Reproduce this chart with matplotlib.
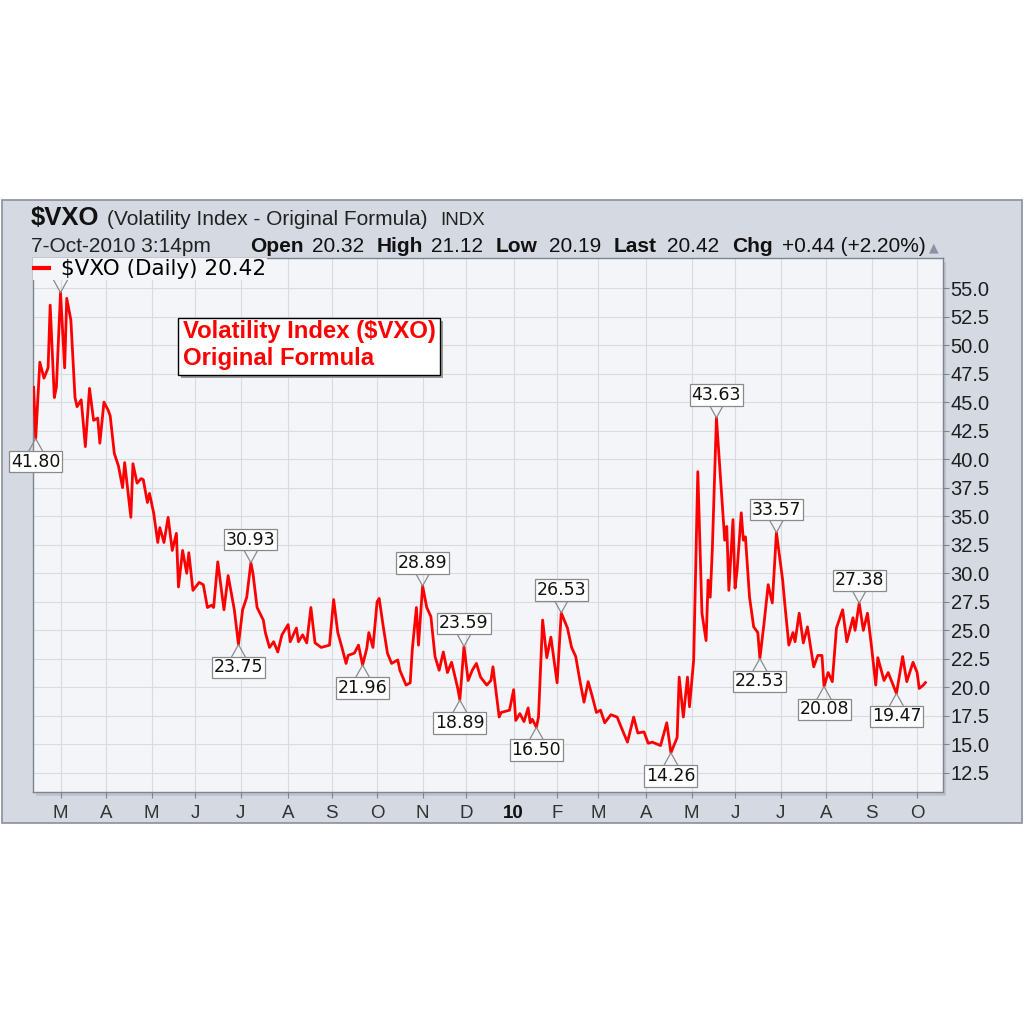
import numpy as np
import pandas as pd
import matplotlib
matplotlib.use("Agg")
import matplotlib.pyplot as plt
from matplotlib.patches import Rectangle
from matplotlib.lines import Line2D

plt.rcParams['font.family'] = ['Liberation Sans', 'DejaVu Sans']

# trading session (0 = 11-Feb-2009) and $VXO close
session = [0, 1, 3, 5, 7, 8, 10, 11, 13, 15, 16, 18, 20, 21, 23, 25, 27, 29, 31, 32,
           34, 36, 37, 39, 41, 43, 44, 47, 48, 50, 52, 53, 55, 56, 58, 60, 61, 63, 65, 67,
           69, 70, 72, 74, 75, 77, 80, 82, 84, 86, 87, 89, 92, 94, 97, 99, 101, 103, 105, 106,
           108, 111, 112, 114, 116, 118, 120, 123, 124, 127, 128, 130, 132, 134, 136, 139, 143, 145, 147, 149,
           151, 152, 155, 157, 159, 161, 162, 164, 166, 167, 169, 171, 173, 176, 177, 180, 182, 183, 185, 186,
           188, 190, 192, 194, 196, 198, 200, 202, 205, 206, 208, 210, 212, 214, 216, 219, 221, 222, 225, 226,
           230, 232, 233, 235, 237, 239, 240, 241, 243, 244, 246, 248, 250, 253, 255, 258, 260, 262, 264, 266,
           268, 270, 272, 274, 276, 279, 282, 284, 287, 290, 292, 295, 297, 299, 303, 306, 308, 311, 312, 314,
           316, 317, 319, 321, 323, 325, 326, 327, 328, 330, 333, 334, 335, 336, 338, 339, 340, 342, 343, 344,
           346, 348, 350, 351, 353, 355, 357, 359, 362, 363, 365, 367, 368, 370, 372, 374, 377, 379, 381, 382,
           384, 386, 388, 391, 393, 396, 397, 399, 401, 403, 405, 407, 408, 411, 413, 417, 420, 422, 425, 427,
           428, 430, 431]
vxo = [46.3, 41.8, 48.5, 47.1, 48.0, 53.5, 45.4, 46.3, 54.6, 48.0, 54.1, 52.2, 45.4, 44.6, 45.2, 41.1, 46.2, 43.4, 43.6, 41.4,
       45.0, 44.3, 43.8, 40.5, 39.4, 37.5, 39.7, 34.9, 39.6, 37.9, 38.3, 38.2, 36.2, 37.0, 35.3, 32.7, 34.0, 32.7, 34.9, 32.0,
       33.5, 28.8, 32.0, 30.0, 31.8, 28.5, 29.2, 29.0, 27.0, 27.2, 27.0, 31.0, 26.8, 29.8, 26.8, 23.75, 26.8, 27.9, 30.93, 30.0,
       27.0, 25.9, 24.8, 23.5, 24.0, 23.1, 24.6, 25.5, 24.0, 25.2, 24.0, 24.6, 23.9, 27.0, 23.9, 23.5, 23.7, 27.7, 24.8, 23.5,
       22.1, 22.8, 23.0, 23.7, 21.96, 23.4, 24.8, 23.5, 27.5, 27.8, 25.3, 23.0, 22.1, 22.4, 21.5, 20.2, 20.4, 23.3, 27.0, 23.7,
       28.89, 27.0, 26.2, 22.7, 21.5, 23.1, 21.3, 22.2, 19.9, 18.89, 23.59, 20.6, 21.5, 22.1, 20.9, 20.2, 20.6, 21.8, 17.4, 17.8,
       18.0, 19.8, 17.1, 17.7, 17.0, 18.2, 16.9, 17.2, 16.5, 17.4, 25.9, 22.6, 24.4, 20.4, 26.53, 25.2, 23.5, 22.7, 20.6, 18.7,
       20.5, 19.2, 17.8, 18.0, 16.9, 17.6, 17.4, 16.5, 15.2, 17.4, 16.0, 16.1, 15.1, 15.2, 14.9, 16.9, 14.26, 15.6, 20.9, 17.4,
       20.9, 18.3, 22.4, 38.9, 26.5, 24.1, 29.4, 27.9, 32.0, 43.63, 35.5, 32.9, 34.1, 28.5, 34.7, 28.7, 30.3, 35.3, 32.9, 33.2,
       27.9, 25.3, 24.8, 22.53, 25.6, 29.0, 27.4, 33.57, 29.4, 27.4, 23.7, 24.8, 24.0, 26.5, 23.9, 25.3, 21.8, 22.8, 22.8, 20.08,
       21.3, 20.5, 25.2, 26.8, 24.0, 26.1, 25.0, 27.38, 25.0, 26.5, 23.5, 20.2, 22.6, 20.6, 21.3, 19.47, 22.7, 20.5, 22.2, 21.3,
       19.9, 20.2, 20.42]

# labelled highs and lows (the March 2009 high's label sits under the legend)
lab_session = [1, 99, 105, 159, 188, 206, 208, 243, 255, 308, 330, 351, 359, 382, 399, 417]
lab_text = ["41.80", "23.75", "30.93", "21.96", "28.89", "18.89", "23.59", "16.50",
            "26.53", "14.26", "43.63", "22.53", "33.57", "20.08", "27.38", "19.47"]
lab_above = [False, False, True, False, True, False, True, False,
             True, False, True, False, True, False, True, False]
hidden_high = 13

yticks = np.arange(12.5, 55.1, 2.5)

days = pd.bdate_range("2009-02-11", "2010-10-07")
mstart = [i for i in range(1, len(days)) if days[i].month != days[i - 1].month]
mlab = ["10" if days[i].month == 1 else days[i].strftime("%b")[0] for i in mstart]

W = 1024.0
def fx(p): return p / W
def fy(p): return 1 - p / W

fig = plt.figure(figsize=(10.24, 10.24), dpi=100)
fig.patch.set_facecolor("white")

# grey chart panel and plot shadow
fig.add_artist(Rectangle((fx(2), fy(823)), fx(1020), 623 / W, transform=fig.transFigure,
                         fc="#d5d9e2", ec="#8b8f9a", lw=1.2, zorder=-3))
fig.add_artist(Rectangle((fx(36), fy(796)), fx(910), 534 / W, transform=fig.transFigure,
                         fc="#bfc3cd", ec="none", zorder=-2))

ax = fig.add_axes([fx(33), fy(792), fx(910), 534 / W])
ax.set_facecolor("#f4f5f9")
ax.plot(session, vxo, color="#ff0000", lw=2.0, zorder=3, solid_joinstyle="round")
ax.set_xlim(-0.3, 439.5)
ax.set_ylim(10.83, 57.63)

ax.grid(True, color="#d9dbe3", lw=0.8)
ax.set_axisbelow(True)
for s in ax.spines.values():
    s.set_color("#80848f")
    s.set_linewidth(1)

ax.yaxis.tick_right()
ax.set_yticks(yticks)
ax.set_yticklabels([f"{v:.1f}" for v in yticks])
ax.tick_params(axis="y", direction="out", length=4, width=0.8, color="#80848f",
               pad=1.5, labelsize=14.5, labelcolor="#1e1e1e")
ax.set_xticks(mstart)
ax.set_xticklabels(mlab)
ax.tick_params(axis="x", direction="out", length=4, width=0.8, color="#80848f",
               pad=5, labelsize=13.5, labelcolor="#333333")
for t in ax.get_xticklabels():
    if t.get_text() == "10":
        t.set_fontweight("bold")
        t.set_color("#111111")


def chevron(d, v, sg):
    for side in (-1, 1):
        ax.annotate("", xy=(d, v), xytext=(side * 5, sg * 9.0), textcoords="offset points",
                    arrowprops=dict(arrowstyle="-", color="#8a8a8a", lw=0.9, shrinkA=0, shrinkB=0),
                    zorder=3.5)


# callout labels
for d, t, up in zip(lab_session, lab_text, lab_above):
    v = vxo[session.index(d)]
    sg = 1 if up else -1
    chevron(d, v, sg)
    ax.annotate(t, xy=(d, v), xytext=(0, sg * 16.5), textcoords="offset points",
                ha="center", va="center", fontsize=12.5, family="DejaVu Sans", color="#111111",
                bbox=dict(boxstyle="square,pad=0.1", fc="white", ec="#8a8a8a", lw=0.9), zorder=4)
chevron(hidden_high, vxo[session.index(hidden_high)], 1)

handle = Line2D([], [], color="#ff0000", lw=3)
ax.legend([handle], [r"\$VXO (Daily) 20.42"], loc="upper left", bbox_to_anchor=(0, 1),
          borderaxespad=0, frameon=True, fancybox=False, facecolor="#f4f5f9", edgecolor="none",
          framealpha=1, handlelength=0.7, handletextpad=0.55, borderpad=0.05,
          prop=dict(family="DejaVu Sans", size=15.5))

# red note box
fig.add_artist(Rectangle((fx(181), fy(378)), fx(262), 57 / W, transform=fig.transFigure,
                         fc="#9a9a9a", ec="none", zorder=5))
fig.add_artist(Rectangle((fx(178), fy(375)), fx(262), 57 / W, transform=fig.transFigure,
                         fc="white", ec="black", lw=1, zorder=6))
fig.text(fx(183), fy(338), r"Volatility Index (\$VXO)", color="#ff0000", fontsize=17.2,
         weight="bold", va="baseline", zorder=7)
fig.text(fx(183), fy(365), "Original Formula", color="#ff0000", fontsize=17.2,
         weight="bold", va="baseline", zorder=7)

# header
fig.text(fx(31), fy(225), r"\$VXO", fontsize=18.5, weight="bold", color="#111111", va="baseline")
fig.text(fx(107), fy(225), "(Volatility Index - Original Formula)", fontsize=15, color="#222222", va="baseline")
fig.text(fx(440), fy(225), "INDX", fontsize=13.5, color="#222222", va="baseline")

fig.text(fx(31), fy(252), "7-Oct-2010 3:14pm", fontsize=15, color="#222222", va="baseline")
quote = [("Open", 250, True), ("20.32", 312, False), ("High", 377, True), ("21.12", 431, False),
         ("Low", 496, True), ("20.19", 549, False), ("Last", 614, True), ("20.42", 667, False),
         ("Chg", 732, True), ("+0.44 (+2.20%)", 782, False)]
for txt, px, b in quote:
    fig.text(fx(px), fy(252), txt, fontsize=15, color="#111111", va="baseline",
             weight="bold" if b else "normal")
fig.text(fx(929), fy(251), "\u25b2", fontsize=9, color="#8a93a6", va="baseline", family="DejaVu Sans")

fig.savefig("out.png", dpi=100, facecolor="white")
